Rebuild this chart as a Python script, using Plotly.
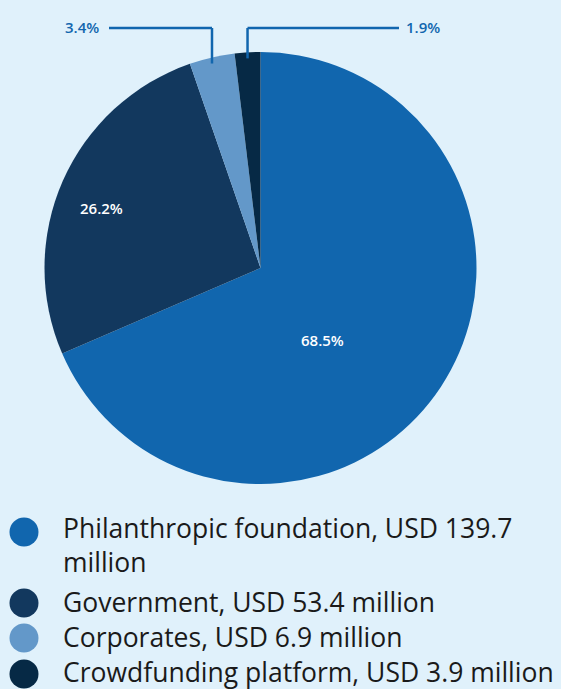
import math
import plotly.graph_objects as go

# ---- data ----
categories = ["Philanthropic foundation", "Government", "Corporates", "Crowdfunding platform"]
values_musd = [139.7, 53.4, 6.9, 3.9]
legend_labels = [
    "Philanthropic foundation, USD 139.7<br>million",
    "Government, USD 53.4 million",
    "Corporates, USD 6.9 million",
    "Crowdfunding platform, USD 3.9 million",
]

# ---- style ----
W, H = 561, 689
BG = "#e0f1fb"
colors = ["#1166ae", "#12385e", "#6398c9", "#062945"]
FONT = "Open Sans"
CX, CY, R = 260.5, 268, 216  # pie centre/radius in px (layout)

def px(x):
    return x / W

def py(y):
    return 1 - y / H

total = sum(values_musd)
pcts = [v / total * 100 for v in values_musd]

fig = go.Figure()
fig.add_trace(go.Pie(
    labels=categories,
    values=values_musd,
    sort=False,
    direction="clockwise",
    rotation=0,
    marker=dict(colors=colors, line=dict(width=0)),
    textinfo="none",
    hoverinfo="label+value+percent",
    showlegend=False,
    domain=dict(x=[px(CX - R), px(CX + R)], y=[py(CY + R), py(CY - R)]),
))

annotations = []
shapes = []

# inside labels (positions chosen to match reference)
inside_pos = [(322, 340), (101, 208)]
for i, (lx, ly) in enumerate(inside_pos):
    annotations.append(dict(
        x=lx / W, y=1 - ly / H, xref="paper", yref="paper",
        xanchor="center", yanchor="middle",
        text=f"{pcts[i]:.1f}%", showarrow=False,
        font=dict(family=FONT, size=15, color="white", weight=600),
    ))

# outside labels with leader lines at slice mid-angles
cum = 0
mids = []
for p in pcts:
    mids.append((cum + p / 2) / 100 * 360)
    cum += p

LINE_Y = 28
LINE_COLOR = "#1166ae"
outside = {2: ("left", 109, 101), 3: ("right", 399, 404)}
for i, (side, hx, tx) in outside.items():
    ang = math.radians(mids[i])
    sx = CX + R * math.sin(ang)
    sy = CY - R * math.cos(ang) + 6
    shapes.append(dict(type="line", xref="paper", yref="paper",
                       x0=px(sx), y0=py(sy), x1=px(sx), y1=py(LINE_Y),
                       line=dict(color=LINE_COLOR, width=2.5)))
    shapes.append(dict(type="line", xref="paper", yref="paper",
                       x0=px(sx), y0=py(LINE_Y), x1=px(hx), y1=py(LINE_Y),
                       line=dict(color=LINE_COLOR, width=2.5)))
    annotations.append(dict(
        x=px(tx), y=py(LINE_Y - 1), xref="paper", yref="paper",
        xanchor="right" if side == "left" else "left", yanchor="middle",
        text=f"{pcts[i]:.1f}%", showarrow=False,
        font=dict(family=FONT, size=15, color=LINE_COLOR, weight=600),
    ))

# custom legend with circular markers
legend_marker_y = [532, 603, 638, 674]
legend_text_y = [545, 602, 637, 672]
for i, lab in enumerate(legend_labels):
    my = legend_marker_y[i]
    shapes.append(dict(type="circle", xref="paper", yref="paper",
                       x0=px(24 - 14.5), x1=px(24 + 14.5),
                       y0=py(my + 14.5), y1=py(my - 14.5),
                       fillcolor=colors[i], line=dict(width=0)))
    annotations.append(dict(
        x=px(61), y=py(legend_text_y[i]), xref="paper", yref="paper",
        xanchor="left", yanchor="middle", align="left",
        text=lab, showarrow=False,
        font=dict(family=FONT, size=26.5, color="#1a1a1a"),
    ))

fig.update_layout(
    width=W, height=H,
    margin=dict(l=0, r=0, t=0, b=0),
    paper_bgcolor=BG, plot_bgcolor=BG,
    shapes=shapes, annotations=annotations,
    showlegend=False,
)

fig.write_html(
    "out.html",
    config={"displayModeBar": False},
    post_script="document.body.style.margin='0';document.body.style.overflow='hidden';document.body.style.background='" + BG + "';",
)
